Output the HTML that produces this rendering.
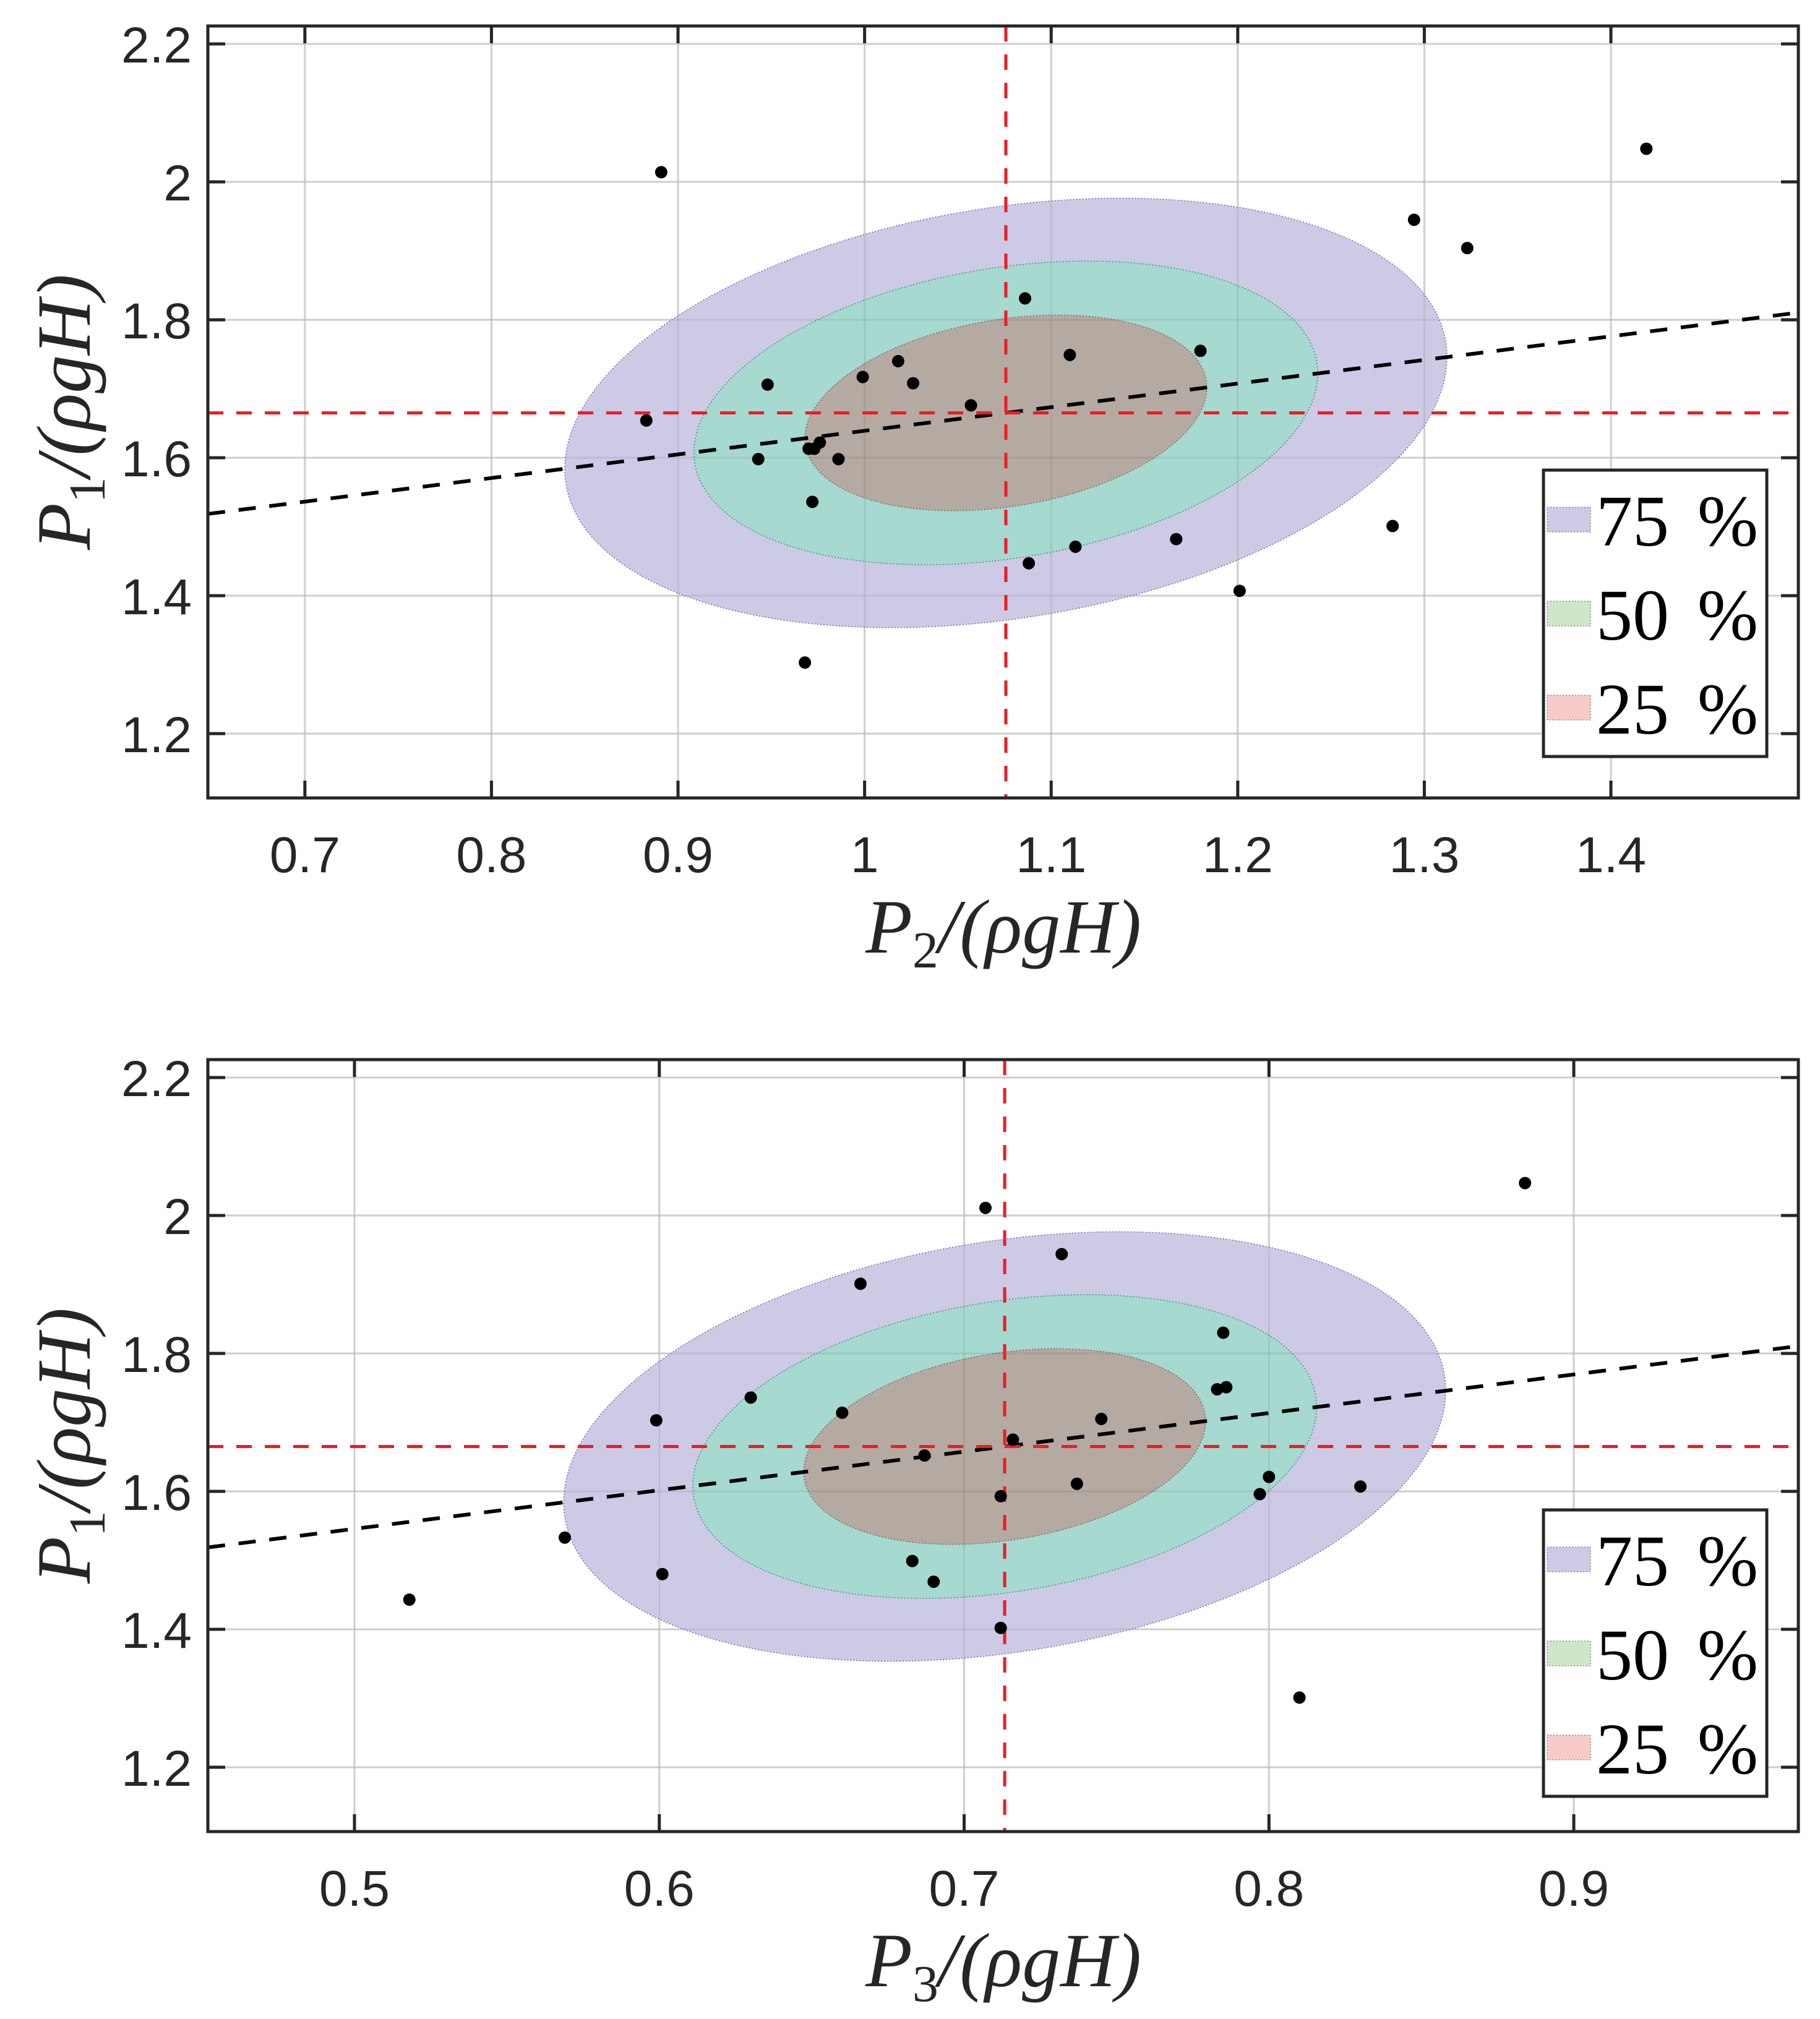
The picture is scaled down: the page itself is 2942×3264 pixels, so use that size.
<!DOCTYPE html>
<html><head><meta charset="utf-8">
<style>
html,body{margin:0;padding:0;background:#fff;}
svg{display:block;}
.tick{font-family:"Liberation Sans",sans-serif;font-size:82px;fill:#262626;}
.ttl{font-family:"Liberation Serif",serif;font-style:italic;font-size:124px;fill:#262626;}
.leg{font-family:"Liberation Serif",serif;font-size:118px;fill:#000;}
</style></head>
<body>
<svg id="fig" width="2942" height="3264" viewBox="0 0 2942 3264" xmlns="http://www.w3.org/2000/svg"></svg>
<script>
// ---- data: top panel (P2 vs P1) ----
const topX = [0.891,1.419,1.2945,1.323,1.086,1.110,1.180,0.999,1.018,1.026,0.948,1.057,0.883,0.943,0.970,0.976,0.973,0.986,0.972,1.283,1.088,1.113,1.167,1.201,0.968];
const topY = [2.014,2.048,1.945,1.904,1.831,1.749,1.755,1.717,1.740,1.708,1.706,1.676,1.654,1.598,1.613,1.622,1.613,1.598,1.536,1.501,1.447,1.471,1.482,1.407,1.303];
const topXTicks = [0.7,0.8,0.9,1,1.1,1.2,1.3,1.4];
const topXLabels = ["0.7","0.8","0.9","1","1.1","1.2","1.3","1.4"];
const topStats = [1.0757,1.665,0.142,0.187,0.26]; // meanX, meanY, sdX, sdY, rho
// ---- data: bottom panel (P3 vs P1) ----
const botX = [0.884,0.707,0.732,0.666,0.785,0.783,0.786,0.630,0.660,0.599,0.745,0.716,0.687,0.737,0.712,0.800,0.797,0.830,0.569,0.683,0.690,0.601,0.518,0.712,0.810];
const botY = [2.047,2.011,1.944,1.901,1.830,1.748,1.751,1.736,1.714,1.703,1.705,1.675,1.652,1.611,1.593,1.621,1.596,1.607,1.533,1.499,1.469,1.480,1.443,1.402,1.301];
const botXTicks = [0.5,0.6,0.7,0.8,0.9];
const botXLabels = ["0.5","0.6","0.7","0.8","0.9"];
const botStats = [0.7133,1.665,0.0869,0.187,0.26];
// shared
const yTicks = [1.2,1.4,1.6,1.8,2,2.2];
const yLabels = ["1.2","1.4","1.6","1.8","2","2.2"];
const levels = ["75","50","25"];
const levelK = [1.6651,1.1774,0.7585];

const NS="http://www.w3.org/2000/svg";
const svg=document.getElementById('fig');
function mk(tag,attrs,parent){const e=document.createElementNS(NS,tag);for(const k in attrs)e.setAttribute(k,attrs[k]);(parent||svg).appendChild(e);return e;}

function panel(cfg){
  const L=336,R=2907,T=cfg.top,B=cfg.top+1248;
  const g=mk('g',{});
  
  
  const sx=v=>L+(v-cfg.xmin)/(cfg.xmax-cfg.xmin)*(R-L);
  const sy=v=>B-(v-cfg.ymin)/(cfg.ymax-cfg.ymin)*(B-T);
  cfg.xt.forEach(v=>{const l=mk('line',{x1:sx(v),x2:sx(v),y1:T,y2:B,stroke:'#dedede','stroke-width':3},g);
    });
  yTicks.forEach(v=>{const l=mk('line',{x1:L,x2:R,y1:sy(v),y2:sy(v),stroke:'#dedede','stroke-width':3},g);
    });
  const [mx,my,sdx,sdy,rho]=cfg.stats;
  const fills=['#cdcae6','#a6d9cf','#b5aaa2'];
  const strokes=['#6a64b0','#3d8a78','#7a5f55'];
  const enames=['ellipse-75','ellipse-50','ellipse-25'];
  levelK.forEach((k,i)=>{
    let d='';
    for(let j=0;j<=180;j++){const t=j/180*2*Math.PI;
      const x=mx+k*sdx*Math.cos(t);
      const y=my+k*sdy*(rho*Math.cos(t)+Math.sqrt(1-rho*rho)*Math.sin(t));
      d+=(j?'L':'M')+sx(x).toFixed(1)+' '+sy(y).toFixed(1);}
    const p=mk('path',{d:d+'Z',fill:fills[i],stroke:strokes[i],'stroke-width':1.5,'stroke-dasharray':'2 3'},g);
    
  });
  cfg.xt.forEach(v=>{mk('line',{x1:sx(v),x2:sx(v),y1:T,y2:B,stroke:'rgba(0,0,0,0.07)','stroke-width':3},g);});
  yTicks.forEach(v=>{mk('line',{x1:L,x2:R,y1:sy(v),y2:sy(v),stroke:'rgba(0,0,0,0.07)','stroke-width':3},g);});
  const slope=rho*sdy/sdx;
  const rl=mk('line',{x1:sx(cfg.xmin),y1:sy(my+slope*(cfg.xmin-mx)),x2:sx(cfg.xmax),y2:sy(my+slope*(cfg.xmax-mx)),stroke:'#000','stroke-width':6,'stroke-dasharray':'28 22'},g);
  
  const mh=mk('line',{x1:L,x2:R,y1:sy(my),y2:sy(my),stroke:'#ee1c25','stroke-width':5,'stroke-dasharray':'25 21'},g);
  
  const mv=mk('line',{x1:sx(mx),x2:sx(mx),y1:T,y2:B,stroke:'#ee1c25','stroke-width':5,'stroke-dasharray':'25 21'},g);
  
  cfg.px.forEach((v,i)=>{const c=mk('circle',{cx:sx(v),cy:sy(cfg.py[i]),r:10,fill:'#000'},g);
    });
  const box=mk('rect',{x:L,y:T,width:R-L,height:B-T,fill:'none',stroke:'#262626','stroke-width':5},g);
  
  cfg.xt.forEach((v,i)=>{
    mk('line',{x1:sx(v),x2:sx(v),y1:T,y2:T+28,stroke:'#262626','stroke-width':5},g);
    mk('line',{x1:sx(v),x2:sx(v),y1:B,y2:B-28,stroke:'#262626','stroke-width':5},g);
    const t=mk('text',{x:sx(v),y:B+120,'text-anchor':'middle',class:'tick'},g);t.textContent=cfg.xl[i];
    
  });
  yTicks.forEach((v,i)=>{
    mk('line',{x1:L,x2:L+28,y1:sy(v),y2:sy(v),stroke:'#262626','stroke-width':5},g);
    mk('line',{x1:R,x2:R-28,y1:sy(v),y2:sy(v),stroke:'#262626','stroke-width':5},g);
    const t=mk('text',{x:310,y:sy(v)+30,'text-anchor':'end',class:'tick'},g);t.textContent=yLabels[i];
    
  });
  const xt=mk('text',{x:1622,y:B+250,'text-anchor':'middle',class:'ttl'},g);
  xt.innerHTML='P<tspan font-style="normal" font-size="84" dy="24">'+cfg.sub+'</tspan><tspan dy="-24">/(ρgH)</tspan>';
  
  const yt=mk('text',{x:0,y:0,'text-anchor':'middle',class:'ttl',transform:'translate(145,'+((T+B)/2)+') rotate(-90)'},g);
  yt.innerHTML='P<tspan font-style="normal" font-size="84" dy="24">1</tspan><tspan dy="-24">/(ρgH)</tspan>';
  
  const lg=mk('g',{},g);
  
  const LT=T+cfg.legOff;
  mk('rect',{x:2495,y:LT,width:361,height:463,fill:'#fff',stroke:'#262626','stroke-width':5},lg);
  const sw=['#cdcae6','#d0e6c9','#f8cbcb'];
  levels.forEach((s,i)=>{
    const cy=LT+80+i*152;
    const r=mk('rect',{x:2501,y:cy-20,width:70,height:40,fill:sw[i],stroke:'#555','stroke-width':1,'stroke-dasharray':'2 3'},lg);
    
    const t=mk('text',{x:2580,y:cy+42,class:'leg'},lg);t.textContent=s;
    
    const p=mk('text',{x:2842,y:cy+42,class:'leg','text-anchor':'end'},lg);p.textContent='%';
    
  });
}
panel({name:'top-chart',top:42,xmin:0.648,xmax:1.4+(2907-2604)/3016,ymin:1.2-(1290-1186)/1115,ymax:1.2+(1186-42)/1115,
  xt:topXTicks,xl:topXLabels,px:topX,py:topY,stats:topStats,sub:'2',legOff:718});
panel({name:'bottom-chart',top:1713,xmin:0.5-(573-336)/4927.5,xmax:0.5+(2907-573)/4927.5,ymin:1.2-(2961-2857)/1115,ymax:1.2+(2857-1713)/1115,
  xt:botXTicks,xl:botXLabels,px:botX,py:botY,stats:botStats,sub:'3',legOff:728});
</script>
</body></html>
